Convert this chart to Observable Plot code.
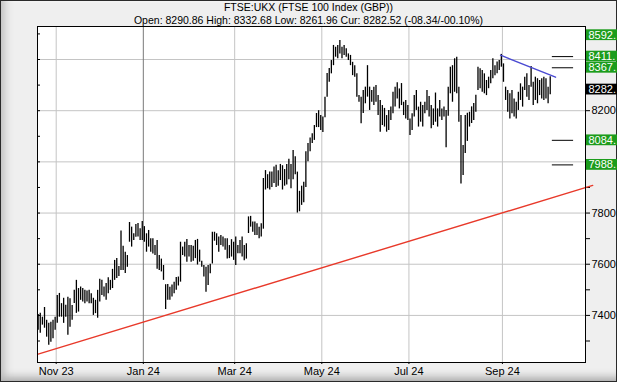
<!DOCTYPE html>
<html><head><meta charset="utf-8">
<script src="https://cdn.jsdelivr.net/npm/d3@7"></script>
<script src="https://cdn.jsdelivr.net/npm/@observablehq/plot@0.6"></script>
<style>
html,body{margin:0;padding:0;}
body{width:617px;height:382px;overflow:hidden;background:#efefef;}
#wrap{position:relative;width:617px;height:382px;overflow:hidden;background:#efefef;
  box-shadow: inset 0 0 0 1px #2a2a2a, inset 12px 0 10px -8px #b8b8b8, inset 0 -12px 10px -8px #a0a0a0, inset 0 3px 3px -2px #ffffff;
  font-family:"Liberation Sans",Arial,sans-serif;}
.t{position:absolute;left:0;width:617px;text-align:center;font-size:10.5px;line-height:12px;color:#000;white-space:nowrap;}
#chart{position:absolute;left:0;top:0;}
#chart svg{overflow:hidden;}
</style></head><body>
<div id="wrap">
<div id="chart"></div>
<div class="t" style="top:1px">FTSE:UKX (FTSE 100 Index (GBP))</div>
<div class="t" style="top:14px">Open: 8290.86 High: 8332.68 Low: 8261.96 Cur: 8282.52 (-08.34/-00.10%)</div>
</div>
<script>
// Daily high / low of the FTSE 100 (trading-day index 0 = 20 Oct 2023 … 241 = 3 Oct 2024)
const highs = [
7404,7408,7393,7431,7381,7369,7373,7381,7393,7478,
7486,7446,7467,7440,7471,7465,7439,7498,7537,7505,
7511,7505,7498,7495,7498,7485,7467,7459,7498,7541,
7537,7511,7525,7547,7537,7580,7615,7622,7591,7730,
7670,7647,7634,7763,7745,7719,7755,7759,7739,7767,
7747,7719,7732,7700,7700,7673,7693,7634,7620,7595,
7520,7521,7510,7519,7530,7548,7550,7686,7667,7686,
7697,7673,7673,7670,7693,7697,7655,7612,7595,7588,
7595,7600,7725,7725,7719,7706,7712,7706,7700,7700,
7673,7696,7686,7706,7673,7693,7706,7673,7680,7785,
7787,7765,7765,7758,7745,7758,7935,7966,7950,7960,
7960,7980,7987,7965,7990,7985,7970,7990,8010,7990,
8044,8020,7960,7885,7905,7920,8040,8072,8093,8110,
8142,8189,8200,8181,8175,8253,8345,8365,8396,8455,
8448,8455,8474,8448,8455,8442,8422,8416,8389,8376,
8344,8259,8253,8279,8292,8376,8292,8279,8292,8298,
8259,8240,8220,8209,8181,8201,8214,8272,8292,8309,
8285,8306,8233,8240,8220,8168,8188,8259,8279,8214,
8233,8220,8233,8279,8255,8220,8207,8269,8207,8240,
8207,8214,8201,8292,8370,8376,8403,8409,8292,8181,
8064,8181,8190,8194,8215,8228,8260,8370,8364,8357,
8344,8318,8331,8357,8403,8376,8390,8396,8420,8383,
8292,8279,8266,8279,8246,8233,8272,8305,8292,8331,
8344,8298,8373,8311,8331,8325,8318,8325,8331,8325,
8292,8332.68];
const lows = [
7342,7330,7362,7350,7315,7283,7295,7309,7342,7369,
7393,7393,7369,7393,7322,7354,7381,7447,7408,7413,
7459,7452,7446,7452,7446,7446,7400,7407,7389,7452,
7478,7472,7459,7485,7498,7505,7537,7544,7552,7576,
7576,7564,7588,7686,7667,7693,7705,7706,7693,7693,
7686,7647,7667,7647,7640,7634,7580,7576,7570,7537,
7423,7459,7459,7472,7485,7498,7515,7530,7634,7628,
7608,7628,7608,7612,7622,7597,7608,7588,7550,7491,
7517,7563,7601,7690,7673,7647,7673,7667,7655,7620,
7622,7628,7615,7595,7641,7641,7628,7614,7620,7720,
7745,7725,7712,7712,7700,7706,7737,7890,7895,7890,
7900,7915,7900,7905,7927,7890,7905,7910,7930,7895,
7930,7950,7800,7805,7830,7840,7900,8000,8040,8072,
8084,8134,8134,8123,8115,8172,8253,8311,8344,8376,
8409,8403,8422,8403,8416,8409,8396,8376,8337,8331,
8253,8233,8149,8189,8227,8253,8201,8233,8220,8233,
8181,8116,8142,8136,8116,8123,8162,8188,8214,8246,
8207,8220,8181,8168,8162,8103,8123,8175,8201,8136,
8155,8136,8188,8201,8175,8129,8142,8155,8136,8175,
8162,8175,8055,8178,8266,8233,8272,8266,8155,7914,
7947,8033,8080,8136,8150,8162,8194,8279,8286,8272,
8266,8259,8286,8305,8325,8337,8344,8357,8370,8311,
8240,8194,8168,8188,8175,8168,8201,8240,8214,8279,
8253,8240,8292,8220,8240,8227,8259,8246,8240,8246,
8227,8261.96];

// month tick labels at the trading-day index of the month's first session
const monthIndex = [8, 49, 92, 133, 174, 218];
const monthLabels = ["Nov 23", "Jan 24", "Mar 24", "May 24", "Jul 24", "Sep 24"];
const yearStart = 49;

// y axis
const gridValues = [7400, 7600, 7800, 8000, 8200, 8400];
const minorValues = [7300, 7400, 7500, 7600, 7700, 7800, 7900, 8000, 8100, 8200, 8300, 8400, 8500];
const axisLabels = [7400, 7600, 7800, 8200];

// trend lines (index, value)
const supportIdx = [0, 261];
const supportVal = [7249, 7908];
const resistIdx = [217.6, 243.5];
const resistVal = [8417, 8331];

// target levels
const targetLevels = [8411.4, 8367.7, 8084.2, 7988.2];
const targetStart = 242, targetEnd = 252;

// right-hand price labels (as much as the reference shows)
const tagValues = [8592.4, 8411.4, 8367.7, 8282.52, 8084.2, 7988.2];
const tagText = ["8592.", "8411.", "8367.", "8282.", "8084.", "7988."];
const tagColor = ["#1c9c1c", "#1c9c1c", "#1c9c1c", "#000000", "#1c9c1c", "#1c9c1c"];

// ---- layout ----
const W = 617, H = 382, mL = 37, mR = 32, mT = 26, mB = 20;
const xDom = [-0.3, 257.6], yDom = [7216, 8529];
const iw = W - mL - mR, ih = H - mT - mB;
const ux = (xDom[1] - xDom[0]) / iw;   // index units per px
const uy = (yDom[1] - yDom[0]) / ih;   // price units per px
const xAtPx = p => xDom[0] + (p - mL) * ux;

const bars = highs.map((h, i) => ({i, h, l: lows[i]}));
const support = supportIdx.map((d, k) => ({i: d, v: supportVal[k]}));
const resist = resistIdx.map((d, k) => ({i: d, v: resistVal[k]}));
const tags = tagValues.map((v, k) => {
  const top = yDom[1] - 8.7 * uy;
  const yc = Math.min(v, top);
  return {v, yc, text: tagText[k], color: tagColor[k]};
});

const chart = Plot.plot({
  width: W, height: H,
  marginLeft: mL, marginRight: mR, marginTop: mT, marginBottom: mB,
  style: {background: "transparent", fontFamily: "'Liberation Sans', Arial, sans-serif", fontSize: "11px", color: "#000"},
  x: {domain: xDom, axis: "bottom", ticks: monthIndex.map(d => d + 0.5),
      tickFormat: d => monthLabels[monthIndex.indexOf(d - 0.5)], tickSize: 2, tickPadding: 3, label: null},
  y: {domain: yDom, axis: "right", ticks: minorValues, tickSize: 4, tickPadding: 2,
      tickFormat: d => axisLabels.includes(d) ? String(d) : "", label: null},
  marks: [
    Plot.frame({fill: "white"}),
    Plot.ruleY(gridValues, {stroke: "#c4c4c4", strokeWidth: 1}),
    Plot.ruleX(monthIndex.filter(d => d !== yearStart), {x: d => d + 0.5, stroke: "#c4c4c4", strokeWidth: 1}),
    Plot.ruleX([yearStart], {x: d => d + 0.5, stroke: "#7a7a7a", strokeWidth: 1}),
    Plot.ruleY(minorValues, {x1: xAtPx(mL), x2: xAtPx(mL + 3), stroke: "#000"}),
    Plot.line(support, {x: "i", y: "v", stroke: "#e8392a", strokeWidth: 1.4}),
    Plot.ruleX(bars, {x: "i", y1: "l", y2: "h", stroke: "#000", strokeWidth: 1.3}),
    Plot.line(resist, {x: "i", y: "v", stroke: "#4a4ad2", strokeWidth: 1.4}),
    Plot.ruleY(targetLevels, {x1: targetStart, x2: targetEnd, stroke: "#000", strokeWidth: 1}),
    Plot.frame({stroke: "#000"}),
    Plot.rect(tags, {x1: xAtPx(586), x2: xAtPx(640), y1: d => d.yc - 5.4 * uy, y2: d => d.yc + 5.4 * uy, fill: d => d.color}),
    Plot.text(tags, {x: xAtPx(588), y: "yc", text: "text", fill: "white", textAnchor: "start", fontSize: 11})
  ]
});
document.getElementById("chart").appendChild(chart);
</script>
</body></html>
